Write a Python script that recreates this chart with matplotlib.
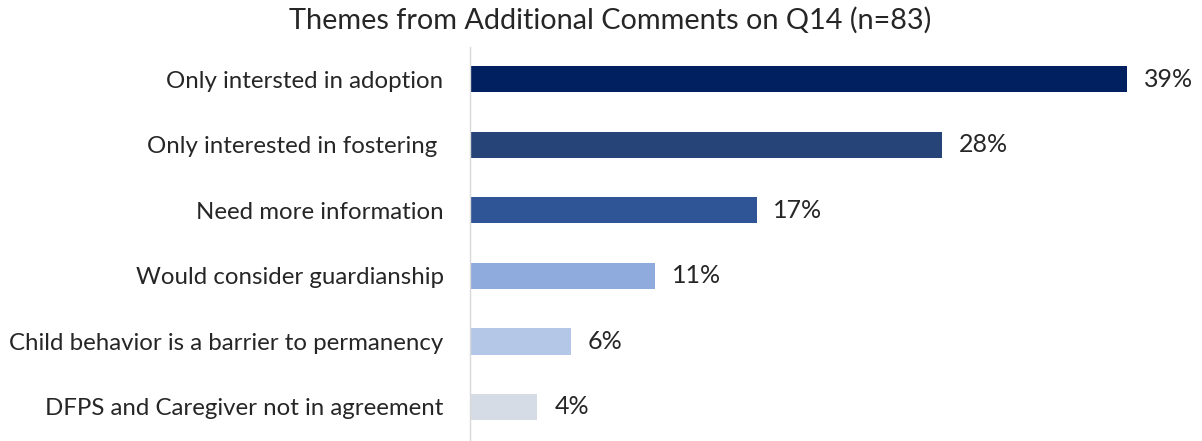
import matplotlib
matplotlib.use("Agg")
import matplotlib.pyplot as plt

# themes coded from the free-text comments, percent of respondents
themes = [
    "Only intersted in adoption",
    "Only interested in fostering ",
    "Need more information",
    "Would consider guardianship",
    "Child behavior is a barrier to permanency",
    "DFPS and Caregiver not in agreement",
]
pct = [39, 28, 17, 11, 6, 4]
bar_colors = ["#002060", "#264478", "#2F5597", "#8FAADC", "#B4C7E7", "#D6DCE5"]

plt.rcParams["font.family"] = ["Lato", "DejaVu Sans"]
txt_color = "#262626"

fig = plt.figure(figsize=(12.02, 4.41), dpi=100)
ax = fig.add_axes([0.391, 0.0, 0.589, 0.893])

ypos = list(range(len(themes)))
ax.barh(ypos, pct, height=0.4, color=bar_colors)

for y, v in zip(ypos, pct):
    ax.text(v + 1.0, y, f"{v}%", va="center", ha="left",
            fontsize=18, color=txt_color)

ax.set_yticks(ypos)
ax.set_yticklabels(themes, fontsize=17.3, color=txt_color)
ax.tick_params(axis="y", length=0, pad=19)
ax.set_xticks([])
ax.set_xlim(0, 42)
ax.set_ylim(5.52, -0.49)

for side in ["top", "right", "bottom"]:
    ax.spines[side].set_visible(False)
ax.spines["left"].set_color("#D9D9D9")
ax.spines["left"].set_linewidth(1.0)

fig.text(0.5075, 0.955, "Themes from Additional Comments on Q14 (n=83)",
         ha="center", va="center", fontsize=20.8, color=txt_color)

fig.savefig("out.png", dpi=100)
